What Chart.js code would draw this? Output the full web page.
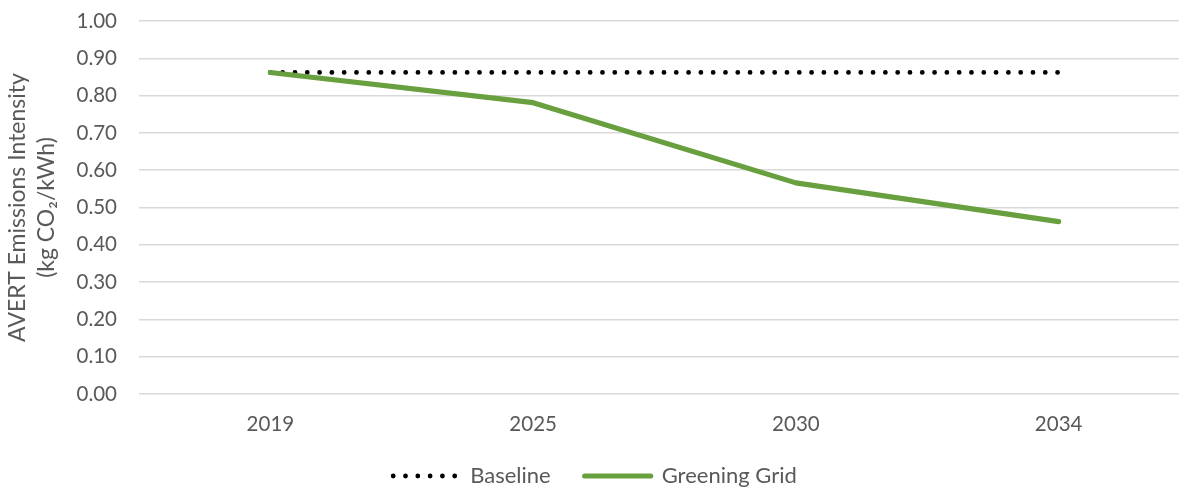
<!DOCTYPE html>
<html>
<head>
<meta charset="utf-8">
<script src="https://cdn.jsdelivr.net/npm/chart.js@4/dist/chart.umd.min.js"></script>
<style>
  html, body { margin: 0; padding: 0; background: #fff; overflow: hidden; }
  #wrap { position: relative; width: 1190px; height: 497px; }
</style>
</head>
<body>
<div id="wrap"><canvas id="c"></canvas></div>
<script>
// Emissions intensity per scenario
const years = ['2019', '2025', '2030', '2034'];
const baseline = [0.862, 0.862, 0.862, 0.862];
const greeningGrid = [0.862, 0.781, 0.566, 0.462];
const seriesNames = ['Baseline', 'Greening Grid'];
const axisTitle = ['AVERT Emissions Intensity', '(kg CO\u2082/kWh)'];

const textColor = '#595959';
const fontFamily = 'Lato, "Open Sans", sans-serif';

// Legend entries drawn as short line samples using each series' own stroke
function lineLegendLabels(chart) {
  const items = Chart.defaults.plugins.legend.labels.generateLabels(chart);
  items.forEach(it => {
    const ds = chart.data.datasets[it.datasetIndex];
    it.pointStyle = 'line';
    it.lineWidth = ds.borderWidth;
    it.lineDash = ds.borderDash || [];
    it.lineCap = 'round';
    it.strokeStyle = ds.borderColor;
    it.fillStyle = ds.borderColor;
    it.fontColor = textColor;
  });
  return items;
}

new Chart(document.getElementById('c'), {
  type: 'line',
  data: {
    labels: years,
    datasets: [
      {
        label: seriesNames[0],
        data: baseline,
        borderColor: '#000000',
        backgroundColor: '#000000',
        borderWidth: 4.8,
        borderDash: [0, 12.3],
        borderCapStyle: 'round',
        pointRadius: 0,
        fill: false,
        order: 2
      },
      {
        label: seriesNames[1],
        data: greeningGrid,
        borderColor: '#689f3f',
        backgroundColor: '#689f3f',
        borderWidth: 5.2,
        borderCapStyle: 'round',
        borderJoinStyle: 'round',
        pointRadius: 0,
        fill: false,
        tension: 0,
        order: 1
      }
    ]
  },
  options: {
    responsive: true,
    maintainAspectRatio: false,
    animation: false,
    layout: { padding: { top: 21, right: 0, bottom: 0, left: 0 } },
    plugins: {
      tooltip: { enabled: false },
      legend: {
        position: 'bottom',
        labels: {
          usePointStyle: true,
          pointStyle: 'line',
          pointStyleWidth: 66,
          padding: 34,
          color: textColor,
          font: { family: fontFamily, size: 22 },
          generateLabels: lineLegendLabels,
          sort: (a, b) => a.datasetIndex - b.datasetIndex
        }
      }
    },
    scales: {
      x: {
        offset: true,
        grid: { display: false },
        border: { display: false },
        ticks: {
          color: textColor,
          font: { family: fontFamily, size: 20.5 },
          padding: 10,
          maxRotation: 0
        },
        afterFit: s => { s.height = 37; }
      },
      y: {
        min: 0,
        max: 1,
        grid: { color: '#d9d9d9', lineWidth: 1.5, drawTicks: false },
        border: { display: false },
        ticks: {
          stepSize: 0.1,
          color: textColor,
          padding: 22,
          font: { family: fontFamily, size: 20.5 },
          callback: v => Number(v).toFixed(2)
        },
        title: {
          display: true,
          text: axisTitle,
          color: textColor,
          font: { family: fontFamily, size: 23, lineHeight: 1.22 },
          padding: { top: 4, bottom: 0 }
        },
        afterFit: s => {
          s.width = 139;
          s.paddingTop = 0;
          s.paddingBottom = 0;
        }
      }
    }
  }
});
</script>
</body>
</html>
